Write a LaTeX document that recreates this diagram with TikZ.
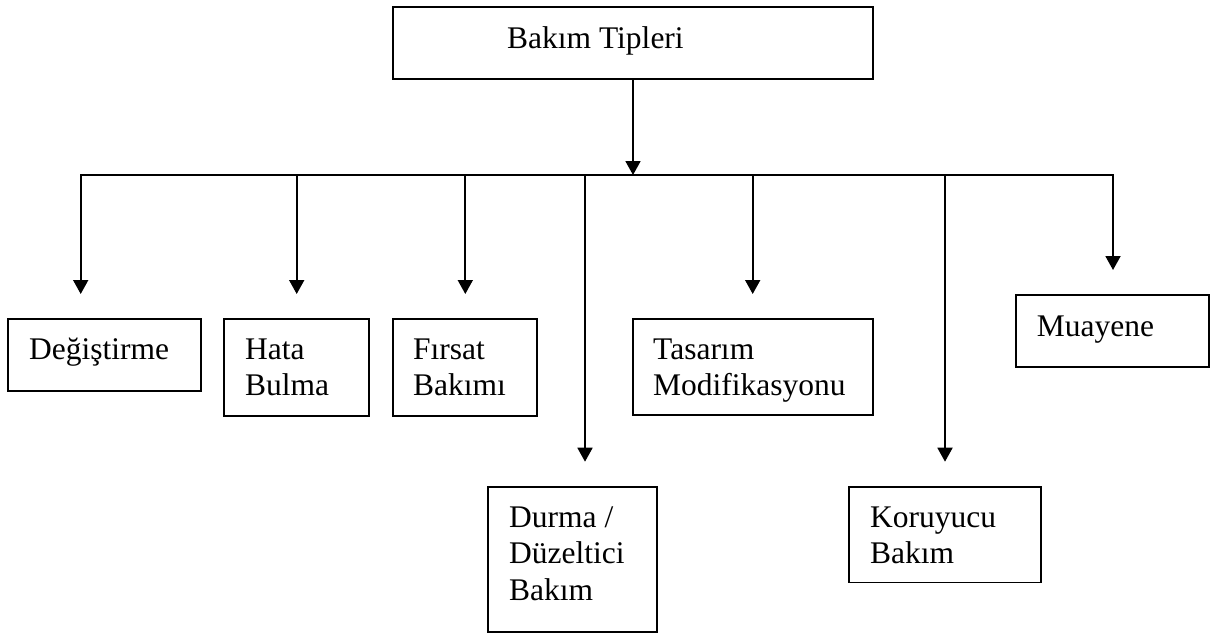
\documentclass[tikz,border=0pt]{standalone}
\usepackage{fontspec}
\setmainfont{Liberation Serif}
\usetikzlibrary{arrows.meta}
\begin{document}
\begin{tikzpicture}[x=1pt,y=-1pt,
  box/.style={draw, line width=1.8pt, inner sep=0pt, outer sep=0pt, anchor=north west},
  % base west of a multi-line label sits on its last line
  lbl/.style={anchor=base west, inner sep=0pt, align=left,
              font=\fontsize{31.5}{36.5}\selectfont},
  conn/.style={line width=1.8pt},
  tipend/.style={-{Triangle[width=15pt,length=14pt]}},
  tipboth/.style={{Triangle[width=15pt,length=14pt]}-{Triangle[width=15pt,length=14pt]}}]
\useasboundingbox (0,0) rectangle (1212,635);

% boxes
\node[box, minimum width=480pt, minimum height=72pt]   (top) at (393,7) {};
\node[box, minimum width=193pt, minimum height=72pt]   (deg) at (8,319) {};
\node[box, minimum width=145pt, minimum height=97pt]   (hat) at (224,319) {};
\node[box, minimum width=144.3pt, minimum height=97pt] (fir) at (392.7,319) {};
\node[box, minimum width=168.4pt, minimum height=144.7pt] (dur) at (488.3,487) {};
\node[box, minimum width=240.3pt, minimum height=96pt] (tas) at (632.7,319) {};
\node[box, minimum width=192pt, minimum height=95.5pt] (kor) at (849,487) {};
\node[box, minimum width=193pt, minimum height=72pt]   (mua) at (1016,295) {};

% texts
\node[lbl] (ttop) at (507,48) {Bakım Tipleri};
\node[lbl] (tdeg) at (29,359) {Değiştirme};
\node[lbl] (that) at (245,395.5) {Hata\\Bulma};
\node[lbl] (tfir) at (413,395.5) {Fırsat\\Bakımı};
\node[lbl] (tdur) at (509,600.3) {Durma /\\Düzeltici\\Bakım};
\node[lbl] (ttas) at (653,395.5) {Tasarım\\Modifikasyonu};
\node[lbl] (tkor) at (870,563.8) {Koruyucu\\Bakım};
\node[lbl] (tmua) at (1036.7,336.7) {Muayene};

% arrow tips and bus level
\coordinate (bus)   at (633,175);
\coordinate (a-deg) at (80.7,294);
\coordinate (a-hat) at (296.7,294);
\coordinate (a-fir) at (465.3,294);
\coordinate (a-dur) at (585,461.7);
\coordinate (a-tas) at (752.7,294);
\coordinate (a-kor) at (945,461.7);
\coordinate (a-mua) at (1113,270);

% connectors
\draw[conn, tipend] (top.south) -- (bus);
\draw[conn, tipboth] (a-deg) -- (a-deg |- bus) -- (a-mua |- bus) -- (a-mua);
\foreach \t in {a-hat, a-fir, a-dur, a-tas, a-kor}
  \draw[conn, tipend] (\t |- bus) -- (\t);
\end{tikzpicture}
\end{document}
